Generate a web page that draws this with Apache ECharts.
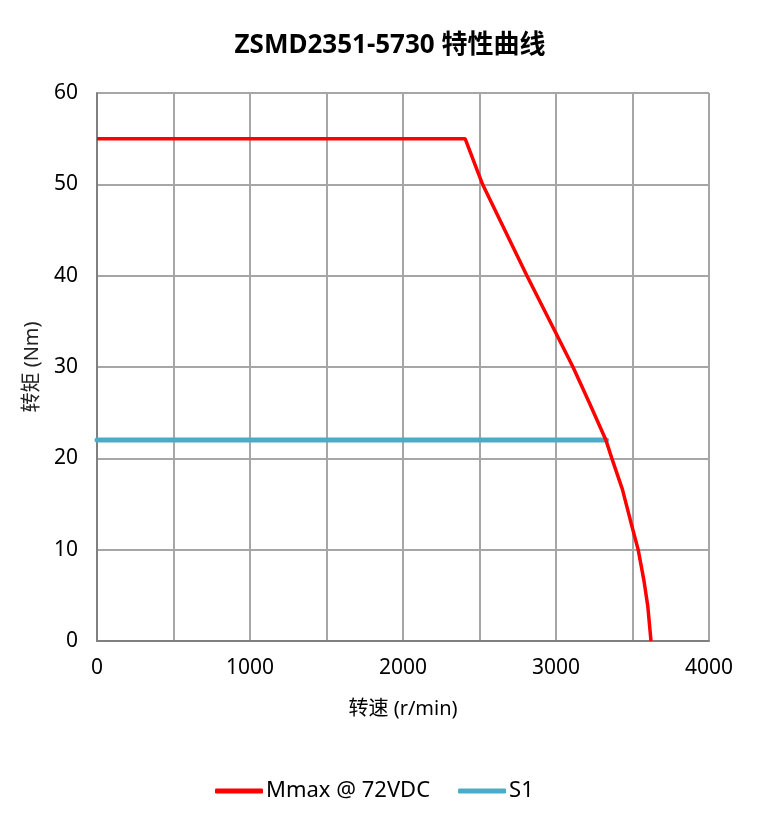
<!DOCTYPE html>
<html>
<head>
<meta charset="utf-8">
<script src="https://cdn.jsdelivr.net/npm/echarts@6/dist/echarts.min.js"></script>
<style>
  html, body { margin: 0; padding: 0; background: #fff; }
  #container { width: 780px; height: 814px; }
</style>
</head>
<body>
<div id="container"></div>
<script>
var dom = document.getElementById('container');
var myChart = echarts.init(dom, null, { renderer: 'canvas' });

const font = '"Noto Sans", "Noto Sans CJK SC", sans-serif';

// 转速 (r/min) / 转矩 (Nm)
const mmaxSpeed = [0, 2406, 2520, 2810, 3000, 3111, 3220, 3326, 3365, 3434, 3491, 3537, 3574, 3600, 3621];
const mmaxTorque = [55, 55, 50, 40, 33.7, 30, 26, 22, 20, 16.6, 12.9, 10, 6.7, 3.8, 0];
const s1Speed = [0, 3330];
const s1Torque = [22, 22];

const seriesNames = ['Mmax @ 72VDC', 'S1'];
const seriesColors = ['#ff0000', '#4bacc6'];

function pairs(xs, ys) {
  return xs.map((x, i) => [x, ys[i]]);
}

var option = {
  title: {
    text: 'ZSMD2351-5730 特性曲线',
    left: 'center',
    top: 28,
    textStyle: { fontFamily: font, fontSize: 26, fontWeight: 'bold', color: '#000' }
  },
  legend: {
    data: seriesNames.map(n => ({ name: n, icon: 'roundRect' })),
    left: 210,
    top: 775,
    itemWidth: 48,
    itemHeight: 5,
    itemGap: 28,
    textStyle: { fontFamily: font, fontSize: 22, color: '#000', padding: [0, 0, 0, -2] }
  },
  grid: { left: 97, right: 71, top: 93, bottom: 173, containLabel: false },
  xAxis: {
    type: 'value',
    min: 0,
    max: 4000,
    interval: 500,
    name: '转速 (r/min)',
    nameLocation: 'middle',
    nameGap: 58,
    nameTextStyle: { fontFamily: font, fontSize: 20, color: '#000' },
    axisLine: { show: true, lineStyle: { color: '#808080', width: 2 } },
    axisTick: { show: false },
    axisLabel: {
      fontFamily: font, fontSize: 21, color: '#000', margin: 17,
      formatter: v => (v % 1000 === 0 ? String(v) : '')
    },
    splitLine: { show: true, lineStyle: { color: '#a6a6a6', width: 2 } }
  },
  yAxis: {
    type: 'value',
    min: 0,
    max: 60,
    interval: 10,
    name: '转矩 (Nm)',
    nameLocation: 'middle',
    nameGap: 55,
    nameTextStyle: { fontFamily: font, fontSize: 20, color: '#222' },
    axisLine: { show: true, lineStyle: { color: '#808080', width: 2 } },
    axisTick: { show: false },
    axisLabel: { fontFamily: font, fontSize: 21, color: '#000', margin: 19 },
    splitLine: { show: true, lineStyle: { color: '#a6a6a6', width: 2 } }
  },
  series: [
    {
      name: seriesNames[0],
      type: 'line',
      data: pairs(mmaxSpeed, mmaxTorque),
      showSymbol: false,
      symbol: 'none',
      lineStyle: { color: seriesColors[0], width: 3.5 },
      itemStyle: { color: seriesColors[0] },
      z: 3
    },
    {
      name: seriesNames[1],
      type: 'line',
      data: pairs(s1Speed, s1Torque),
      showSymbol: false,
      symbol: 'none',
      lineStyle: { color: seriesColors[1], width: 5, cap: 'round' },
      itemStyle: { color: seriesColors[1] },
      z: 2
    }
  ]
};

myChart.setOption(option);
window.addEventListener('resize', myChart.resize);
</script>
</body>
</html>
